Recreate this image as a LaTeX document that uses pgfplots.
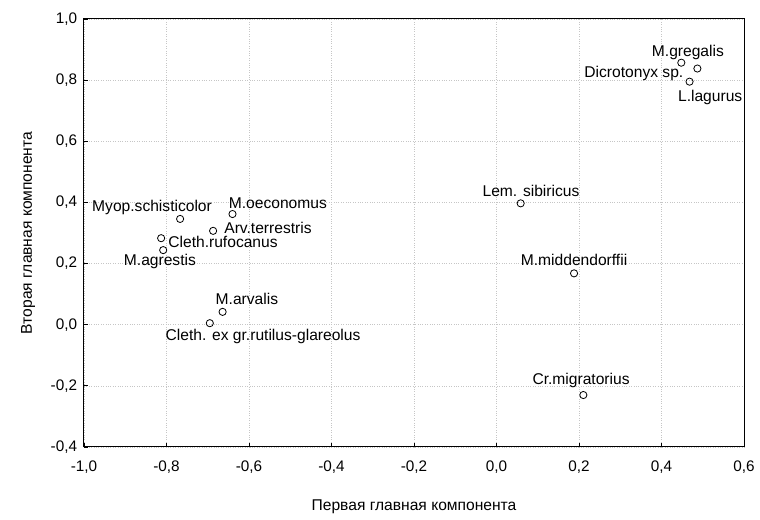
\documentclass[border=0pt]{standalone}
\usepackage{pgfplots}
\pgfplotsset{compat=1.18}
\usepackage{fontspec}
\setmainfont{Liberation Sans}
\newcommand{\lf}{\fontsize{15.6pt}{18pt}\selectfont}
\begin{document}
\lf
\begin{tikzpicture}
\begin{axis}[
  name=ax,
  scale only axis, width=660pt, height=428pt,
  xmin=-1, xmax=0.6, ymin=-0.4, ymax=1.0,
  xtick={-1,-0.8,-0.6,-0.4,-0.2,0,0.2,0.4,0.6},
  ytick={-0.4,-0.2,0,0.2,0.4,0.6,0.8,1.0},
  /pgf/number format/.cd, fixed, fixed zerofill, precision=1, use comma, assume math mode=true,
  /pgfplots/.cd,
  tick align=inside, tick pos=left, major tick length=4pt,
  tick style={black, line width=0.8pt},
  axis line style={black, line width=1pt},
  grid=major,
  major grid style={gray!45, dotted, line width=0.6pt},
  ticklabel style={font=\fontsize{15.3pt}{18pt}\selectfont},
  xticklabel style={yshift=-8pt},
  yticklabel style={xshift=-1.5pt},
  every axis y label/.style={at={(axis description cs:0,0.5)}, xshift=-52pt, rotate=90, anchor=base, font=\lf},
  every axis x label/.style={at={(axis description cs:0.5,0)}, yshift=-64pt, anchor=base, font=\lf},
  xlabel={Первая главная компонента},
  ylabel={Вторая главная компонента},
  clip=false,
]
\addplot[only marks, mark=o, mark size=3.6pt, mark options={black, line width=0.8pt, fill=white}] coordinates {
  (0.448,0.857) (0.487,0.838) (0.468,0.795)
  (-0.767,0.346) (-0.640,0.362) (-0.687,0.307) (-0.813,0.283) (-0.808,0.244)
  (-0.664,0.042) (-0.695,0.005)
  (0.0586,0.397) (0.188,0.168) (0.2105,-0.230)
};
\begin{scope}[every node/.style={font=\lf, inner sep=0pt}]
\node at (axis cs:0.464,0.892) {M.gregalis};
\node at (axis cs:0.333,0.823) {Dicrotonyx sp.};
\node at (axis cs:0.518,0.742) {L.lagurus};
\node at (axis cs:-0.835,0.382) {Myop.schisticolor};
\node at (axis cs:-0.530,0.398) {M.oeconomus};
\node at (axis cs:-0.554,0.316) {Arv.terrestris};
\node at (axis cs:-0.663,0.271) {Cleth.rufocanus};
\node at (axis cs:-0.816,0.208) {M.agrestis};
\node at (axis cs:-0.605,0.084) {M.arvalis};
\node at (axis cs:-0.566,-0.037) {Cleth. ex gr.rutilus-glareolus};
\node at (axis cs:0.0836,0.437) {Lem. sibiricus};
\node at (axis cs:0.188,0.212) {M.middendorffii};
\node at (axis cs:0.205,-0.184) {Cr.migratorius};
\end{scope}
\end{axis}
\path ([shift={(-84pt,-67pt)}]ax.south west) rectangle ([shift={(16pt,19pt)}]ax.north east);
\end{tikzpicture}
\end{document}
